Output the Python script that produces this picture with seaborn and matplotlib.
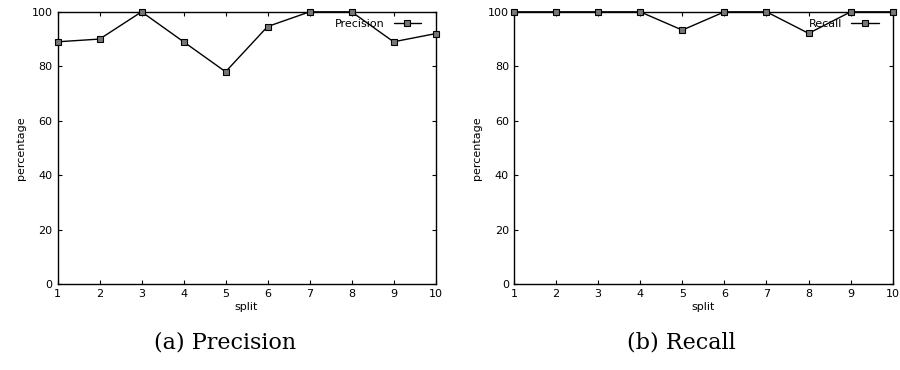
import numpy as np
import pandas as pd
import matplotlib
matplotlib.use('Agg')
import matplotlib.pyplot as plt
import seaborn as sns

# Data
splits = [1, 2, 3, 4, 5, 6, 7, 8, 9, 10]
precision = [89, 90, 100, 89, 78, 94.6, 100, 100, 89, 92]
recall = [100, 100, 100, 100, 93.3, 100, 100, 92.1, 100, 100]
y_ticks = [0, 20, 40, 60, 80, 100]

sns.set_style("ticks")
plt.rcParams['font.family'] = ['DejaVu Sans']
plt.rcParams['xtick.direction'] = 'in'
plt.rcParams['ytick.direction'] = 'in'
for key in ['text.color', 'axes.labelcolor', 'xtick.color', 'ytick.color',
            'axes.edgecolor', 'xtick.labelcolor', 'ytick.labelcolor']:
    plt.rcParams[key] = 'black'

fig = plt.figure(figsize=(9, 3.7), dpi=100)
ax1 = fig.add_axes([0.064, 0.232, 0.42, 0.736])
ax2 = fig.add_axes([0.571, 0.232, 0.421, 0.736])

panels = [(ax1, precision, 'Precision', '(a) Precision', 0.25),
          (ax2, recall, 'Recall', '(b) Recall', 0.757)]

for ax, values, name, caption, cx in panels:
    df = pd.DataFrame({'split': splits, 'value': values})
    sns.lineplot(data=df, x='split', y='value', ax=ax, color='black',
                 linewidth=1, marker='s', markersize=5,
                 markerfacecolor='#777777', markeredgecolor='black',
                 markeredgewidth=0.8, label=name, clip_on=False, zorder=5)
    ax.set_xlim(1, 10)
    ax.set_ylim(0, 100)
    ax.set_xticks(splits)
    ax.set_yticks(y_ticks)
    ax.tick_params(labelsize=8, top=True, right=True, length=3, width=0.8)
    ax.set_xlabel('split', fontsize=8, labelpad=2)
    ax.set_ylabel('percentage', fontsize=8, labelpad=4)
    for s in ax.spines.values():
        s.set_linewidth(1.0)
        s.set_visible(True)
    leg = ax.legend(loc='upper right', markerfirst=False, frameon=False,
                    fontsize=8, handlelength=2.5, borderaxespad=0.2,
                    bbox_to_anchor=(0.98, 1.0))
    fig.text(cx, 0.075, caption, ha='center', va='center', fontsize=16,
             family='DejaVu Serif')

fig.savefig('out.png', dpi=100)
